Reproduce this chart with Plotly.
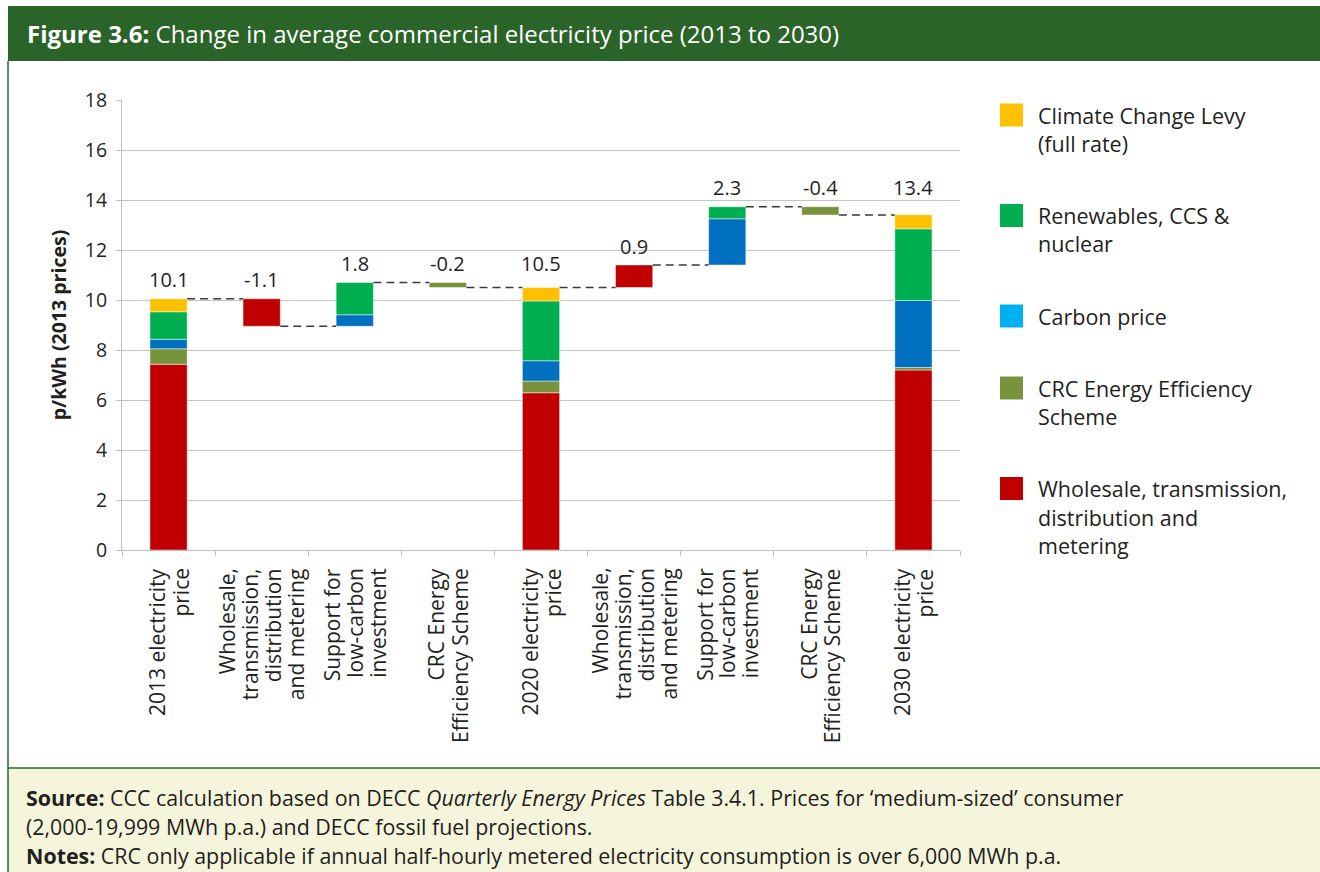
import plotly.graph_objects as go

# ---------------- data ----------------
categories = [
    "2013 electricity<br>price",
    "Wholesale,<br>transmission,<br>distribution<br>and metering",
    "Support for<br>low-carbon<br>investment",
    "CRC Energy<br>Efficiency Scheme",
    "2020 electricity<br>price",
    "Wholesale,<br>transmission,<br>distribution<br>and metering",
    "Support for<br>low-carbon<br>investment",
    "CRC Energy<br>Efficiency Scheme",
    "2030 electricity<br>price",
]
kinds = ["total", "change", "change", "change", "total", "change", "change", "change", "total"]

wholesale = [7.43, -1.10, 0, 0, 6.29, 0.90, 0, 0, 7.20]
crc = [0.62, 0, 0, -0.20, 0.47, 0, 0, -0.33, 0.10]
carbon = [0.38, 0, 0.46, 0, 0.81, 0, 1.85, 0, 2.68]
renewables = [1.10, 0, 1.29, 0, 2.39, 0, 0.48, 0, 2.87]
ccl = [0.52, 0, 0, 0, 0.54, 0, 0, 0, 0.56]

value_labels = ["10.1", "-1.1", "1.8", "-0.2", "10.5", "0.9", "2.3", "-0.4", "13.4"]

series_names = ["Wholesale, transmission, distribution and metering", "CRC Energy Efficiency Scheme",
                "Carbon price", "Renewables, CCS & nuclear", "Climate Change Levy (full rate)"]
series_values = [wholesale, crc, carbon, renewables, ccl]
bar_colors = ["#C00000", "#77933C", "#0070C0", "#00B050", "#FFC000"]
legend_colors = ["#C00000", "#77933C", "#00B0F0", "#00B050", "#FFC000"]
legend_lines = [
    ["Wholesale, transmission,", "distribution and", "metering"],
    ["CRC Energy Efficiency", "Scheme"],
    ["Carbon price"],
    ["Renewables, CCS &", "nuclear"],
    ["Climate Change Levy", "(full rate)"],
]

title_html = "<b>Figure 3.6:</b> Change in average commercial electricity price (2013 to 2030)"
footer_lines = [
    "<b>Source:</b> CCC calculation based on DECC <i>Quarterly Energy Prices</i> Table 3.4.1. Prices for \u2018medium-sized\u2019 consumer",
    "(2,000-19,999 MWh p.a.) and DECC fossil fuel projections.",
    "<b>Notes:</b> CRC only applicable if annual half-hourly metered electricity consumption is over 6,000 MWh p.a.",
]

# ---------------- layout geometry ----------------
W, H = 1320, 872
L, R, T, B = 122, 360, 100, 322
PW, PH = W - L - R, H - T - B
FONT = "Open Sans"
TXT = "#231F20"
DARKGREEN = "#2B6429"
BAR_W = 0.4


def px(x):
    return (x - L) / PW


def py(y):
    return (H - B - y) / PH


# ---------------- waterfall computation ----------------
n = len(categories)
bases = [[None] * n for _ in series_values]
tops, ends = [], []
level = 0.0
for i in range(n):
    start = 0.0 if kinds[i] == "total" else level
    pos, neg = start, start
    for s, vals in enumerate(series_values):
        v = vals[i]
        if v == 0:
            continue
        if v > 0:
            bases[s][i] = pos
            pos += v
        else:
            bases[s][i] = neg
            neg += v
    level = pos + (neg - start)
    tops.append(max(pos, start))
    ends.append(level)

fig = go.Figure()
xs = list(range(n))
for s, vals in enumerate(series_values):
    fig.add_trace(go.Bar(
        x=xs, y=[v if v != 0 else None for v in vals], base=bases[s],
        width=BAR_W, name=series_names[s],
        marker=dict(color=bar_colors[s], line=dict(color="rgba(255,255,255,0.45)", width=1)),
        showlegend=False, hoverinfo="skip",
    ))

# dashed connectors
for i in range(n - 1):
    fig.add_trace(go.Scatter(
        x=[i + BAR_W / 2, i + 1 - BAR_W / 2], y=[ends[i], ends[i]], mode="lines",
        line=dict(color="#3A3A3A", width=1.5, dash="8px,5px"), showlegend=False, hoverinfo="skip",
    ))

annotations = []
# value labels
for i in range(n):
    anchor = max(tops[i], tops[i - 1]) if i > 0 else tops[i]
    annotations.append(dict(x=i, y=anchor, xref="x", yref="y", text=value_labels[i], showarrow=False,
                            yanchor="middle", yshift=19, font=dict(size=20, color=TXT, family=FONT)))

# category labels (rotated, one annotation per line so the line pitch matches)
TICK_PITCH = 23
for i, cat in enumerate(categories):
    parts = cat.split("<br>")
    for k, part in enumerate(parts):
        annotations.append(dict(x=i, y=py(566), xref="x", yref="paper", text=part, showarrow=False,
                                textangle=-90, xanchor="center", yanchor="top",
                                xshift=(k - (len(parts) - 1) / 2) * TICK_PITCH,
                                font=dict(size=21, color=TXT, family=FONT)))

shapes = []
# title bar
shapes.append(dict(type="rect", xref="paper", yref="paper", x0=px(8), x1=px(W), y0=py(61), y1=py(6),
                   fillcolor=DARKGREEN, line=dict(width=0), layer="below"))
annotations.append(dict(x=px(25), y=py(34), xref="paper", yref="paper", text=title_html, showarrow=False,
                        xanchor="left", yanchor="middle", font=dict(size=24, color="white", family=FONT)))
# footer
shapes.append(dict(type="rect", xref="paper", yref="paper", x0=px(8), x1=px(W), y0=py(H), y1=py(768),
                   fillcolor="#F5F5DC", line=dict(width=0), layer="below"))
shapes.append(dict(type="line", xref="paper", yref="paper", x0=px(8), x1=px(W), y0=py(768), y1=py(768),
                   line=dict(color=DARKGREEN, width=1.5)))
shapes.append(dict(type="line", xref="paper", yref="paper", x0=px(8), x1=px(8), y0=py(61), y1=py(H),
                   line=dict(color=DARKGREEN, width=1.5)))
for k, line in enumerate(footer_lines):
    annotations.append(dict(x=px(24), y=py(797 + 29 * k), xref="paper", yref="paper", text=line,
                            showarrow=False, xanchor="left", yanchor="middle",
                            font=dict(size=21.4, color=TXT, family=FONT)))

# manual legend (top item = last stacked series)
LINE_H = 28.5
y_cursor = 115.0
for s in reversed(range(len(series_values))):
    shapes.append(dict(type="rect", xref="paper", yref="paper", x0=px(1000), x1=px(1023),
                       y0=py(y_cursor + 11.5), y1=py(y_cursor - 11.5),
                       fillcolor=legend_colors[s], line=dict(width=0)))
    for k, t in enumerate(legend_lines[s]):
        annotations.append(dict(x=px(1036), y=py(y_cursor + LINE_H * k), xref="paper", yref="paper",
                                text=t, showarrow=False, xanchor="left", yanchor="middle",
                                font=dict(size=21.5, color=TXT, family=FONT)))
    y_cursor += LINE_H * len(legend_lines[s]) + 43.5

fig.update_layout(
    width=W, height=H,
    margin=dict(l=L, r=R, t=T, b=B, autoexpand=False),
    plot_bgcolor="white", paper_bgcolor="white",
    barmode="overlay", showlegend=False,
    font=dict(family=FONT, color=TXT),
    shapes=shapes, annotations=annotations,
    xaxis=dict(
        range=[-0.5, n - 0.5], tickmode="array", tickvals=xs, showticklabels=False,
        ticks="", showline=True, linecolor="#BFBFBF", linewidth=1,
        showgrid=False, zeroline=False,
        minor=dict(tickmode="array", tickvals=[k - 0.5 for k in range(n + 1)], ticks="outside",
                   ticklen=5, tickcolor="#BFBFBF", showgrid=False),
    ),
    yaxis=dict(
        range=[0, 18], tick0=0, dtick=2, showgrid=True, gridcolor="#C4C4C4", gridwidth=1,
        showline=True, linecolor="#BFBFBF", linewidth=1, ticks="outside", ticklen=5,
        tickcolor="#BFBFBF", zeroline=False, tickfont=dict(size=19.5, color=TXT, family=FONT),
        ticklabelstandoff=5,
        title=dict(text="<b>p/kWh (2013 prices)</b>", font=dict(size=19.5, color=TXT, family=FONT), standoff=12),
    ),
)

fig.write_html("out.html", config={"displayModeBar": False},
               post_script="document.body.style.margin='0';document.body.style.overflow='hidden';")
